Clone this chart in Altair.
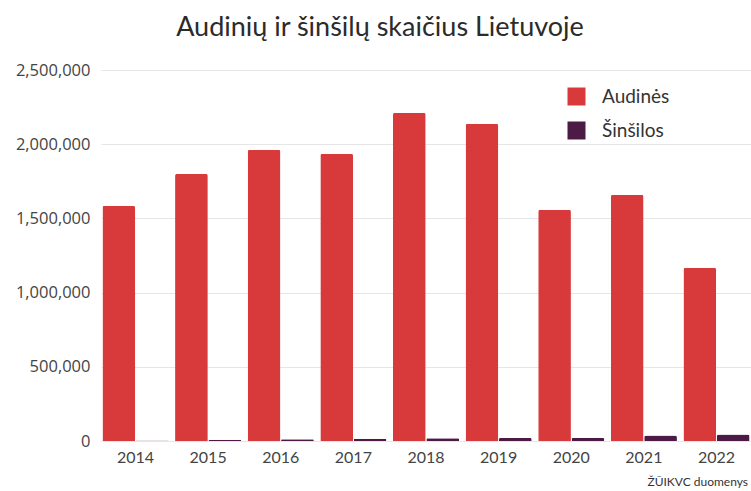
import altair as alt
import pandas as pd

years = ["2014", "2015", "2016", "2017", "2018", "2019", "2020", "2021", "2022"]
audines = [1585000, 1800000, 1962000, 1935000, 2212000, 2138000, 1558000, 1659000, 1167000]
sinsilos = [3000, 8000, 12000, 16000, 19000, 21000, 22000, 37000, 44000]
series = ["Audinės", "Šinšilos"]
colors = ["#d83a3b", "#4b1a45"]
y_ticks = [0, 500000, 1000000, 1500000, 2000000, 2500000]

rows = []
for i, yr in enumerate(years):
    rows.append({"year": yr, "series": series[0], "value": audines[i]})
    rows.append({"year": yr, "series": series[1], "value": sinsilos[i]})
df = pd.DataFrame(rows)

bars = alt.Chart(df).mark_bar(cornerRadiusTopLeft=2, cornerRadiusTopRight=2).encode(
    x=alt.X("year:N", sort=years, title=None,
            scale=alt.Scale(paddingInner=0.09, paddingOuter=0.02),
            axis=alt.Axis(labelAngle=0, labelFont="Lato", labelFontSize=16,
                          labelColor="#444444", labelPadding=8, ticks=False,
                          domain=False, grid=False)),
    xOffset=alt.XOffset("series:N", sort=series, scale=alt.Scale(paddingInner=0.02)),
    y=alt.Y("value:Q", title=None,
            scale=alt.Scale(domain=[0, 2500000], nice=False),
            axis=alt.Axis(values=y_ticks, format=",.0f", labelFont="Open Sans",
                          labelFontSize=16.5, labelColor="#444444", labelPadding=11,
                          ticks=False, domain=False, gridColor="#e6e6e6",
                          gridWidth=1)),
    color=alt.Color("series:N", sort=series,
                    scale=alt.Scale(domain=series, range=colors),
                    legend=alt.Legend(title=None, orient="none", legendX=466,
                                      legendY=17, symbolType="square",
                                      symbolSize=324, symbolStrokeWidth=0,
                                      labelFont="Lato", labelFontSize=19,
                                      labelColor="#333333", labelOffset=16,
                                      rowPadding=14, padding=0)),
)

source = alt.Chart(pd.DataFrame({"t": ["ŽŪIKVC duomenys"]})).mark_text(
    align="right", baseline="middle", font="Lato", fontSize=12, color="#333333"
).encode(x=alt.value(647), y=alt.value(412), text="t:N")

chart = alt.layer(bars, source).properties(
    width=650,
    height=371,
    title=alt.TitleParams("Audinių ir šinšilų skaičius Lietuvoje", font="Lato",
                          fontSize=27, fontWeight="normal", color="#2b2b2b",
                          anchor="middle", dx=-46, offset=20),
    autosize=alt.AutoSizeParams(type="none"),
    padding={"left": 101, "top": 70, "right": 0, "bottom": 50},
).configure_view(stroke=None)

chart.save("out.html", embed_options={"renderer": "svg", "actions": False})
